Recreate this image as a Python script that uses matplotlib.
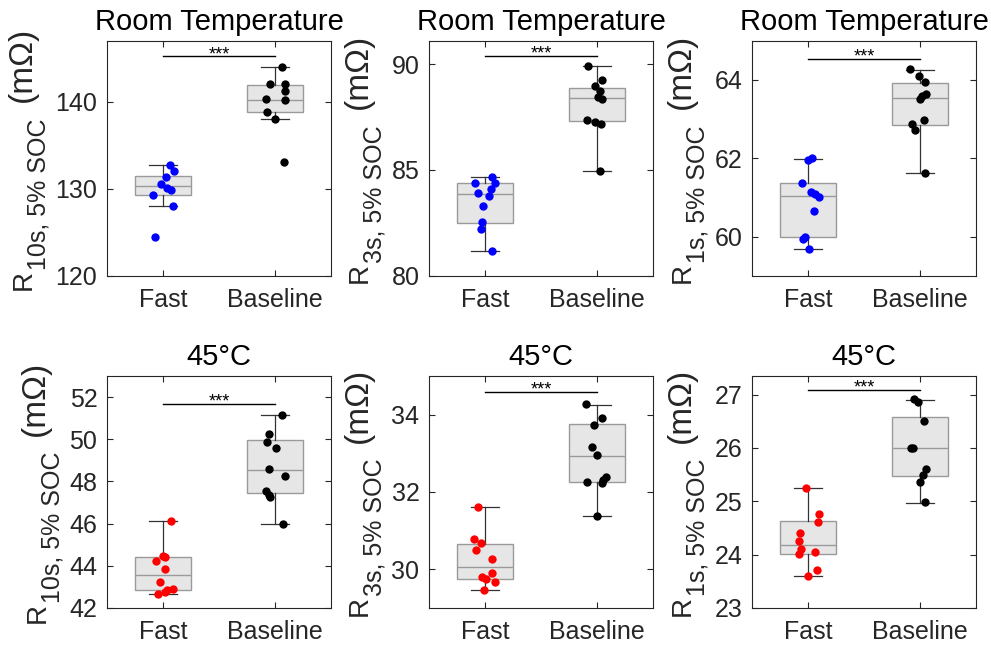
import matplotlib
matplotlib.use("Agg")
import matplotlib.pyplot as plt
from matplotlib.transforms import IdentityTransform

plt.rcParams["font.family"] = ["Liberation Sans", "DejaVu Sans"]

groups = ["Fast", "Baseline"]

# ---- data (mOhm) ----
# room temperature, R10s
rt10_fast = [132.7, 132.0, 131.4, 130.5, 130.1, 129.8, 129.3, 128.0, 124.5]
rt10_base = [144.0, 142.0, 142.0, 141.2, 140.3, 140.2, 138.8, 138.0, 133.1]
# room temperature, R3s
rt3_fast = [84.68, 84.37, 84.37, 83.92, 84.08, 83.78, 83.29, 82.54, 82.21, 81.16]
rt3_base = [89.92, 89.25, 88.94, 88.73, 88.44, 88.33, 87.35, 87.27, 87.19, 84.95]
# room temperature, R1s
rt1_fast = [62.0, 61.96, 61.38, 61.14, 61.08, 61.0, 60.65, 60.0, 59.95, 59.69]
rt1_base = [64.27, 64.09, 63.94, 63.64, 63.58, 63.51, 62.98, 62.88, 62.72, 61.62]
# 45C, R10s
h10_fast = [46.14, 44.48, 44.40, 44.23, 43.84, 43.22, 42.89, 42.86, 42.74, 42.66]
h10_base = [51.17, 50.27, 49.85, 49.57, 48.59, 48.26, 47.54, 47.34, 47.26, 46.0]
# 45C, R3s
h3_fast = [31.62, 30.77, 30.68, 30.50, 30.27, 29.90, 29.81, 29.74, 29.66, 29.47]
h3_base = [34.27, 33.91, 33.74, 33.15, 32.95, 32.39, 32.31, 32.25, 32.24, 31.39]
# 45C, R1s
h1_fast = [25.25, 24.76, 24.62, 24.41, 24.25, 24.11, 24.02, 24.05, 23.71, 23.59]
h1_base = [26.91, 26.86, 26.5, 25.99, 25.99, 25.61, 25.5, 25.37, 24.98]

# horizontal jitter of the dots (category units)
rt10_fast_jit = [0.06, 0.10, 0.03, -0.015, 0.036, 0.074, -0.09, 0.09, -0.07]
rt10_base_jit = [0.063, -0.042, 0.086, 0.092, -0.08, 0.086, -0.071, 0.003, 0.083]
rt3_fast_jit = [0.06, -0.092, 0.089, -0.06, 0.05, 0.036, -0.015, -0.024, -0.033, 0.065]
rt3_base_jit = [-0.083, 0.048, -0.015, 0.03, 0.009, 0.045, -0.089, -0.015, 0.039, 0.024]
rt1_fast_jit = [0.036, 0.0, -0.054, 0.021, 0.065, 0.095, 0.054, -0.024, -0.045, 0.006]
rt1_base_jit = [-0.089, -0.006, 0.039, 0.054, 0.021, 0.0, 0.036, -0.074, -0.045, 0.045]
h10_fast_jit = [0.074, 0.0, 0.015, -0.06, 0.021, -0.024, 0.089, 0.036, 0.021, -0.045]
h10_base_jit = [0.063, -0.051, -0.071, 0.009, -0.057, 0.089, -0.08, -0.057, -0.048, 0.074]
h3_fast_jit = [-0.06, -0.098, -0.039, -0.077, 0.06, 0.06, -0.03, 0.012, 0.089, -0.009]
h3_base_jit = [-0.095, 0.045, -0.024, -0.045, 0.0, 0.08, 0.054, -0.089, 0.042, 0.0]
h1_fast_jit = [-0.015, 0.098, 0.089, -0.071, -0.086, -0.06, -0.086, 0.06, 0.077, 0.003]
h1_base_jit = [-0.051, -0.015, 0.03, -0.08, -0.065, 0.048, 0.024, -0.003, 0.039]

# box statistics as drawn: whislo, q1, median, q3, whishi
rt10_box = [[128.0, 129.3, 130.3, 131.5, 132.7], [138.0, 138.8, 140.2, 141.9, 144.0]]
rt3_box = [[81.17, 82.51, 83.86, 84.37, 84.67], [84.95, 87.30, 88.38, 88.87, 89.92]]
rt1_box = [[59.69, 60.0, 61.04, 61.38, 61.99], [61.62, 62.86, 63.53, 63.92, 64.26]]
h10_box = [[42.66, 42.86, 43.54, 44.40, 46.14], [46.0, 47.45, 48.56, 49.97, 51.17]]
h3_box = [[29.47, 29.76, 30.07, 30.64, 31.62], [31.39, 32.26, 32.93, 33.76, 34.26]]
h1_box = [[23.59, 24.02, 24.18, 24.63, 25.25], [24.97, 25.47, 25.99, 26.58, 26.89]]

# significance bar heights
sig_y = [145.2, 90.4, 64.54, 51.69, 34.59, 27.09]

titles = ["Room Temperature"] * 3 + ["45°C"] * 3
subs = ["10s", "3s", "1s", "10s", "3s", "1s"]
ylims = [(120, 147), (80, 91.1), (59, 65), (42, 53), (29, 35), (23, 27.35)]
yticks = [[120, 130, 140], [80, 85, 90], [60, 62, 64],
          [42, 44, 46, 48, 50, 52], [30, 32, 34], [23, 24, 25, 26, 27]]

panels = [
    (rt10_fast, rt10_base, rt10_fast_jit, rt10_base_jit, rt10_box),
    (rt3_fast, rt3_base, rt3_fast_jit, rt3_base_jit, rt3_box),
    (rt1_fast, rt1_base, rt1_fast_jit, rt1_base_jit, rt1_box),
    (h10_fast, h10_base, h10_fast_jit, h10_base_jit, h10_box),
    (h3_fast, h3_base, h3_fast_jit, h3_base_jit, h3_box),
    (h1_fast, h1_base, h1_fast_jit, h1_base_jit, h1_box),
]

fig = plt.figure(figsize=(9.91, 6.46), dpi=100)
lefts = [0.108, 0.433, 0.759]
bottoms = [0.573, 0.059]
heights = [0.364, 0.359]

ax_col = "#262626"
axes = []
for i, (fast, base, fj, bj, box) in enumerate(panels):
    r, c = divmod(i, 3)
    ax = fig.add_axes([lefts[c], bottoms[r], 0.226, heights[r]])
    axes.append(ax)

    stats = []
    for lbl, b in zip(groups, box):
        stats.append({"label": lbl, "whislo": b[0], "q1": b[1], "med": b[2],
                      "q3": b[3], "whishi": b[4], "fliers": []})
    ax.bxp(stats, positions=[1, 2], widths=0.5, patch_artist=True,
           showfliers=False, capwidths=0.25,
           boxprops=dict(facecolor="#e6e6e6", edgecolor="#9a9a9a", linewidth=1.0),
           medianprops=dict(color="#9a9a9a", linewidth=1.0),
           whiskerprops=dict(color="#333333", linewidth=0.9),
           capprops=dict(color="#333333", linewidth=0.9))

    dot_col = "blue" if r == 0 else "red"
    ax.scatter([1 + j for j in fj], fast, s=36, color=dot_col, zorder=3, linewidths=0)
    ax.scatter([2 + j for j in bj], base, s=36, color="black", zorder=3, linewidths=0)

    # significance bar
    ax.plot([1, 2], [sig_y[i], sig_y[i]], color="black", lw=1.0)
    ax.annotate("***", xy=(1.5, sig_y[i]), xytext=(0, -2), textcoords="offset points",
                ha="center", va="baseline", fontsize=13)

    ax.set_xlim(0.5, 2.5)
    ax.set_ylim(*ylims[i])
    ax.set_yticks(yticks[i])
    ax.set_xticks([1, 2])
    ax.set_xticklabels(groups)
    ax.tick_params(direction="in", length=4, width=0.8, top=True, right=True,
                   labelsize=18, colors=ax_col, pad=7)
    ax.tick_params(axis="x", pad=9)
    for sp in ax.spines.values():
        sp.set_color(ax_col)
        sp.set_linewidth(0.8)
    ax.set_title(titles[i], fontsize=21, pad=8)

# y labels: R with a large subscript, built from three rotated pieces
fig.canvas.draw()
renderer = fig.canvas.get_renderer()
for ax, sub in zip(axes, subs):
    tl_left = min(t.get_window_extent(renderer).x0
                  for t in ax.get_yticklabels() if t.get_text())
    xb = tl_left - 25
    pieces = [("R", 20, 0, 0), (sub + ", 5% SOC", 18, 15, 0), ("(mΩ)", 24, 0, 16)]
    texts, lengths = [], []
    for s, fs, dx, gap in pieces:
        t = fig.text(0, 0, s, fontsize=fs, rotation=90, rotation_mode="anchor",
                     ha="left", va="baseline", color=ax_col,
                     transform=IdentityTransform())
        texts.append(t)
        lengths.append(t.get_window_extent(renderer).height + gap)
    yc = (ax.bbox.y0 + ax.bbox.y1) / 2
    y = yc - sum(lengths) / 2
    for t, (s, fs, dx, gap), ln in zip(texts, pieces, lengths):
        t.set_position((xb + dx, y + gap))
        y += ln

fig.savefig("out.png", dpi=100)
